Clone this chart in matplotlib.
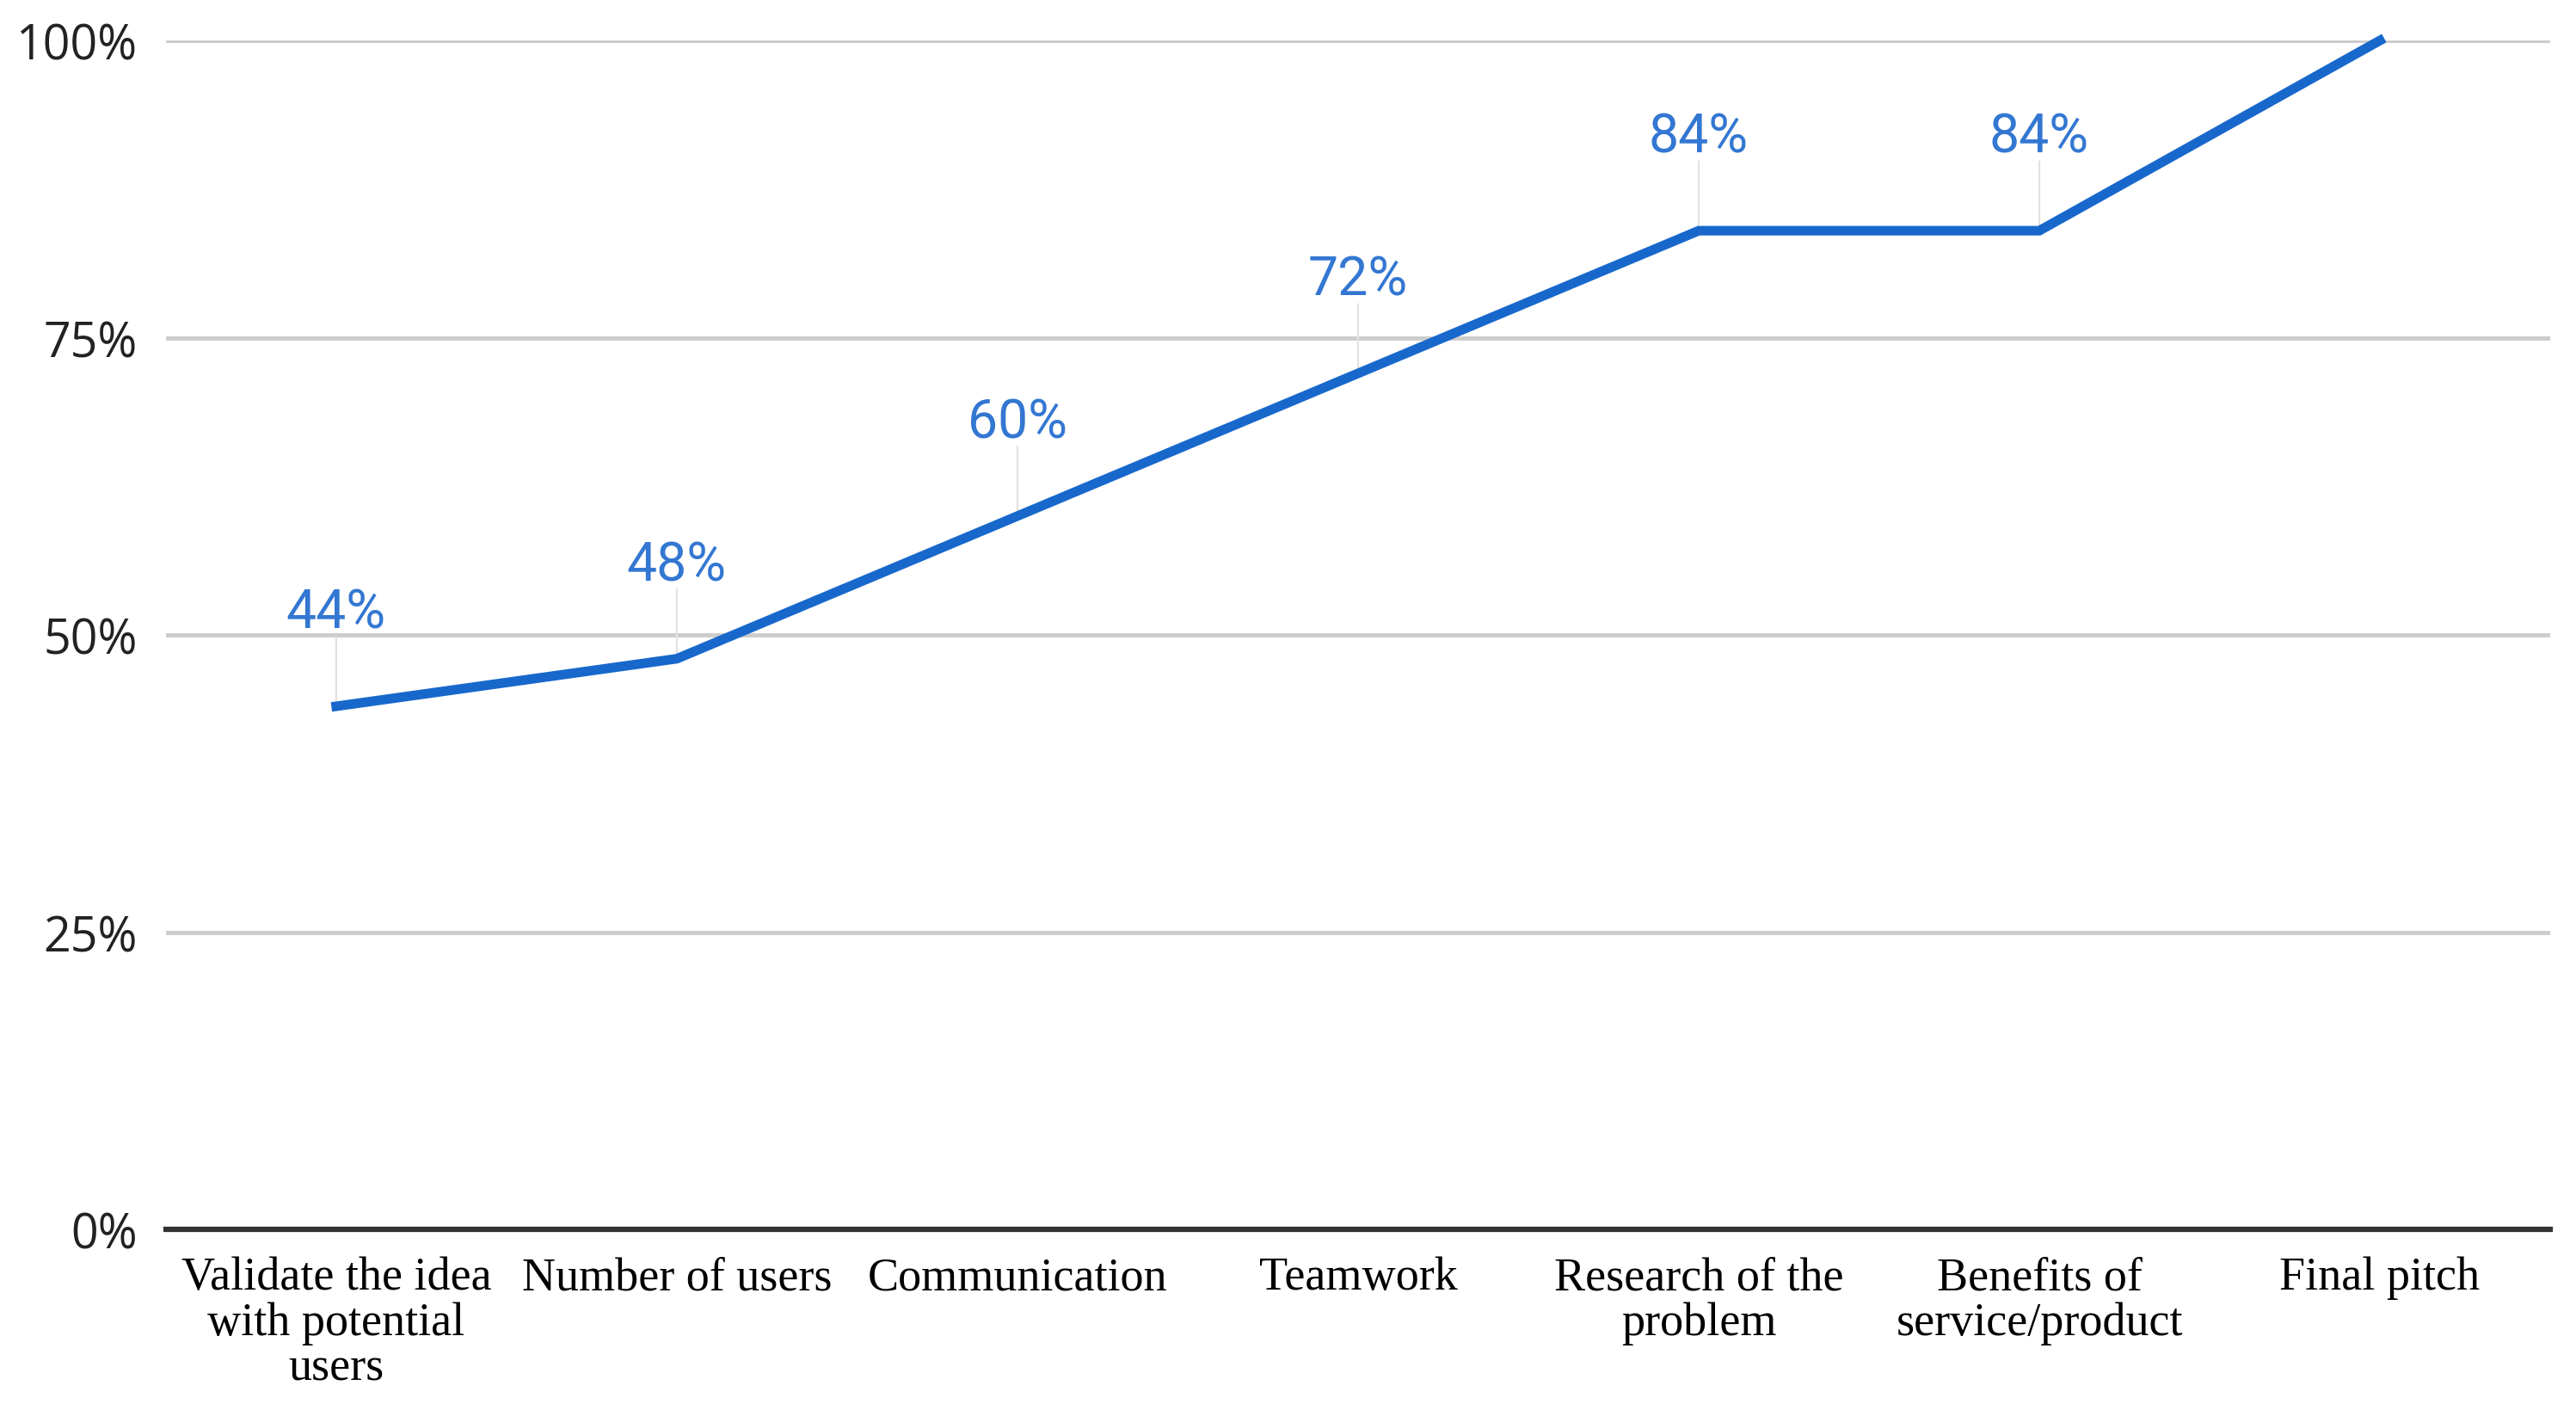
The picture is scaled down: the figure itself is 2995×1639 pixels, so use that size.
import matplotlib.pyplot as plt
from matplotlib.ticker import PercentFormatter

# Skills rated, share of teams (%)
categories = ['Validate the idea\nwith potential\nusers', 'Number of users', 'Communication',
              'Teamwork', 'Research of the\nproblem', 'Benefits of\nservice/product', 'Final pitch']
values = [44, 48, 60, 72, 84, 84, 100]
y_ticks = [0, 25, 50, 75, 100]

line_color = '#1868cc'
label_color = '#3377d2'

fig = plt.figure(figsize=(29.95, 16.4), dpi=100)
ax = fig.add_axes([0.0644, 0.128, 0.9256, 0.8427])

x = list(range(len(categories)))
ax.plot(x, values, color=line_color, lw=8, solid_joinstyle='miter', clip_on=False, zorder=3)

ymax = max(y_ticks)
# leader lines + labels above each point; the one at the very top is cut off in the original
for xi, v in zip(x, values):
    if v >= ymax:
        continue
    ax.annotate('', xy=(xi, v), xytext=(0, 58), textcoords='offset points',
                arrowprops=dict(arrowstyle='-', color='#e2e2e2', lw=1.6, shrinkA=0, shrinkB=0),
                zorder=2)
    ax.annotate(f'{v}%', xy=(xi, v), xytext=(0, 66), textcoords='offset points',
                ha='center', va='baseline', color=label_color, fontsize=45,
                family='Roboto', zorder=4)

ax.set_xlim(-0.5, len(categories) - 0.5)
ax.set_ylim(0, ymax)
ax.set_yticks(y_ticks)
ax.yaxis.set_major_formatter(PercentFormatter(decimals=0))
ax.grid(axis='y', color='#cccccc', lw=3.5)
ax.set_axisbelow(True)

ax.set_xticks(x)
ax.set_xticklabels(categories, family='Liberation Serif', fontsize=39, linespacing=1.06,
                   va='top', ha='center')
ax.tick_params(axis='x', length=0, pad=22, colors='black')
ax.tick_params(axis='y', length=0, pad=24, labelsize=40, labelcolor='#222222')
for lab in ax.get_yticklabels():
    lab.set_family('Open Sans')

for s in ['top', 'left', 'right']:
    ax.spines[s].set_visible(False)
ax.spines['bottom'].set_color('#333333')
ax.spines['bottom'].set_linewidth(4.5)
ax.spines['bottom'].set_zorder(5)

fig.savefig('out.png', dpi=100)
